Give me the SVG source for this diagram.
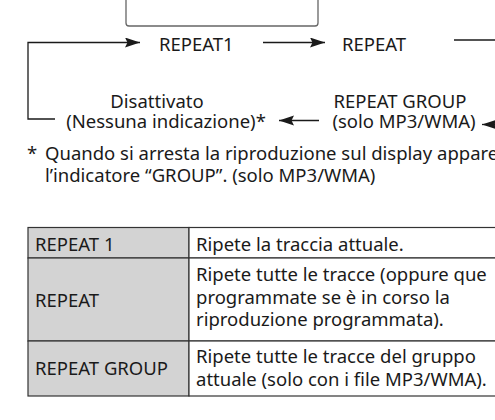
<svg xmlns="http://www.w3.org/2000/svg" width="495" height="420" viewBox="0 0 495 420">
<style>
text{font-family:"Noto Sans","Open Sans","Liberation Sans",sans-serif;font-size:18.5px;fill:#1a1a1a}
.mid{text-anchor:middle}
.conn{fill:none;stroke:#1a1a1a;stroke-width:1.3}
.cell{fill:#ffffff;stroke:#333333;stroke-width:1.2}
.head{fill:#d3d3d3;stroke:#333333;stroke-width:1.2}
</style>
<defs>
<marker id="ah" markerUnits="userSpaceOnUse" markerWidth="16" markerHeight="12" refX="15" refY="5" orient="auto">
<path d="M0,0 L15,5 L0,10 L2.5,5 Z" fill="#1a1a1a"/>
</marker>
</defs>
<rect width="495" height="420" fill="#ffffff"/>
<g id="display-box">
<rect x="126" y="-20" width="192" height="46" rx="3" fill="none" stroke="#666666" stroke-width="1.3"/>
</g>
<g id="connectors">
<path class="conn" d="M55,119 H28 V42.5 H140" marker-end="url(#ah)"/>
<path class="conn" d="M263,42.5 H325" marker-end="url(#ah)"/>
<path class="conn" d="M454,40 H500"/>
<path class="conn" d="M319,120.5 H279" marker-end="url(#ah)"/>
<path class="conn" d="M500,124.5 H482" marker-end="url(#ah)"/>
</g>
<g id="node-repeat1"><text x="159" y="50.5">REPEAT1</text></g>
<g id="node-repeat"><text x="342" y="50.5">REPEAT</text></g>
<g id="node-repeat-group">
<text class="mid" x="400" y="107.5">REPEAT GROUP</text>
<text class="mid" x="404" y="128">(solo MP3/WMA)</text>
</g>
<g id="node-off">
<text class="mid" x="157" y="107.5">Disattivato</text>
<text class="mid" x="166" y="128">(Nessuna indicazione)*</text>
</g>
<g id="footnote">
<text x="27" y="160">*</text>
<text x="45" y="160">Quando si arresta la riproduzione sul display appare</text>
<text x="45" y="181.5">l’indicatore “GROUP”. (solo MP3/WMA)</text>
</g>
<g id="table">
<rect class="head" x="28" y="227.5" width="161" height="30.5"/>
<rect class="head" x="28" y="258" width="161" height="83"/>
<rect class="head" x="28" y="341" width="161" height="55"/>
<rect class="cell" x="189" y="227.5" width="320" height="30.5"/>
<rect class="cell" x="189" y="258" width="320" height="83"/>
<rect class="cell" x="189" y="341" width="320" height="55"/>
<text x="35" y="251">REPEAT 1</text>
<text x="196" y="251">Ripete la traccia attuale.</text>
<text x="35" y="306.5">REPEAT</text>
<text x="196" y="281">Ripete tutte le tracce (oppure que</text>
<text x="196" y="303.5">programmate se è in corso la</text>
<text x="196" y="326">riproduzione programmata).</text>
<text x="35" y="375">REPEAT GROUP</text>
<text x="196" y="363">Ripete tutte le tracce del gruppo</text>
<text x="196" y="385.5">attuale (solo con i file MP3/WMA).</text>
</g>
</svg>
